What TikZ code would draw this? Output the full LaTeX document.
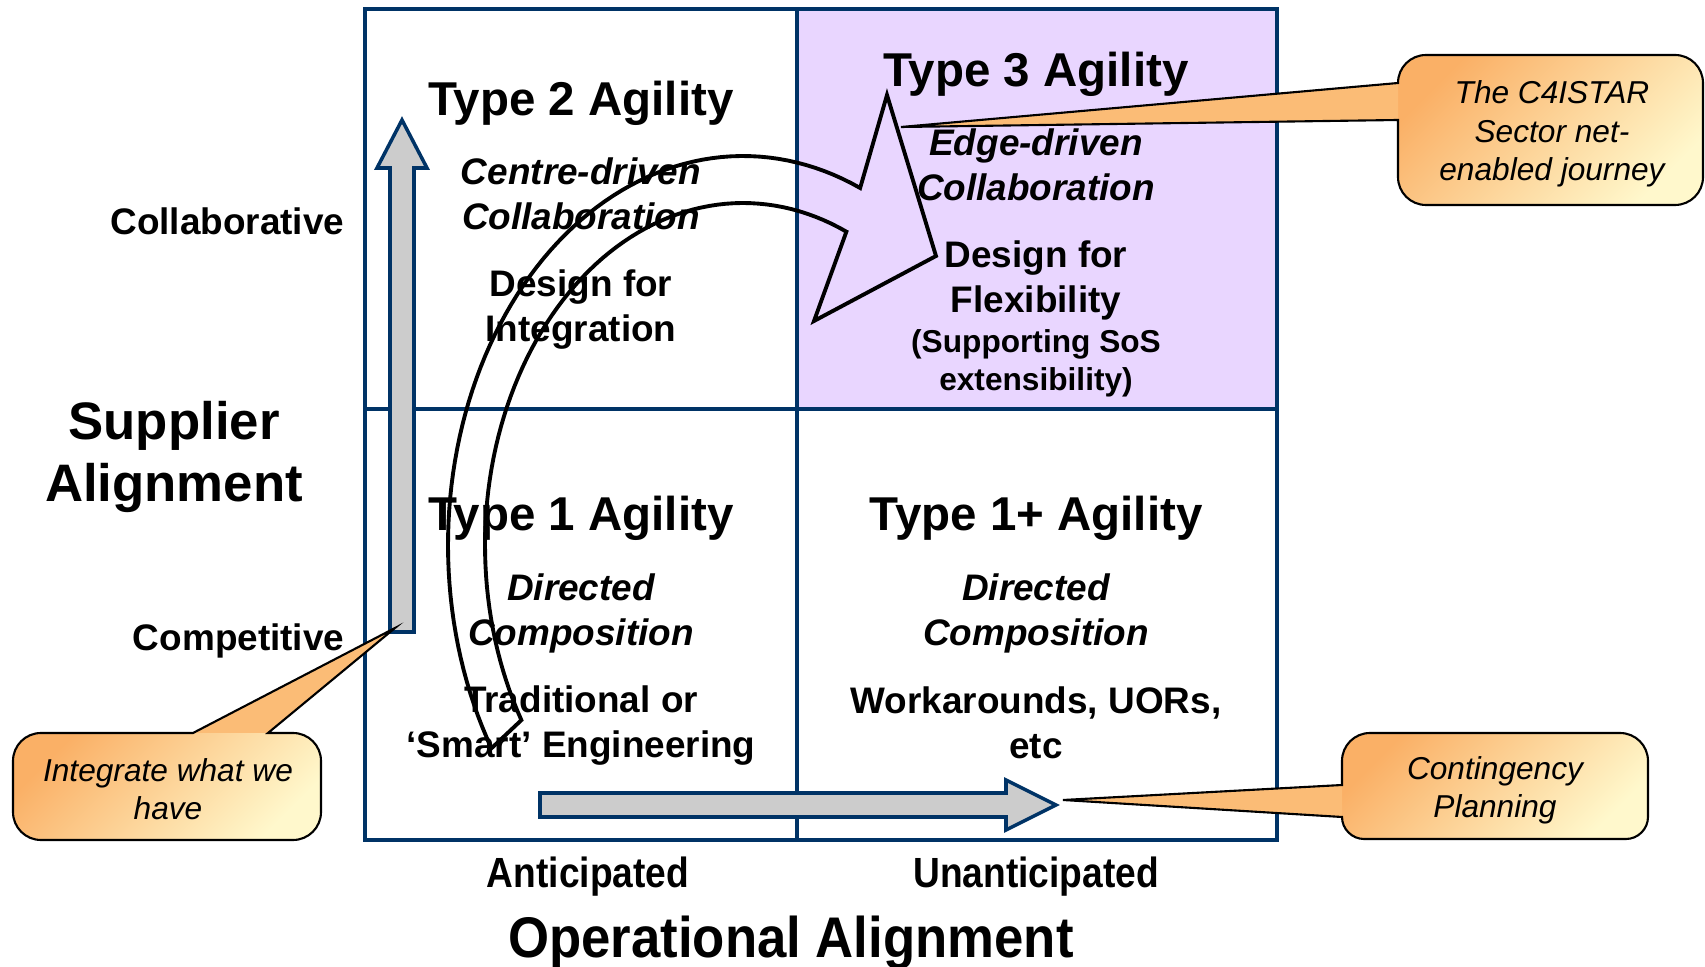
\documentclass[tikz,border=0pt]{standalone}
\usepackage{fontspec}
\setmainfont{Liberation Sans}
\definecolor{navy}{RGB}{0,51,102}
\definecolor{lilac}{RGB}{233,214,255}
\definecolor{arrgray}{RGB}{204,204,204}
\definecolor{coA}{RGB}{250,176,102}
\definecolor{coB}{RGB}{255,248,204}
\definecolor{coT}{RGB}{251,188,118}
\tikzset{
  frm/.style={draw=navy, line width=1.1pt},
  ttl/.style={font=\fontsize{13.5}{16}\selectfont\bfseries, inner sep=0pt},
  body/.style={font=\fontsize{10.5}{12.8}\selectfont\bfseries, align=center, inner sep=0pt},
  sub/.style={font=\fontsize{10.5}{12.8}\selectfont\bfseries\itshape, align=center, inner sep=0pt},
  smallbody/.style={font=\fontsize{9}{10.8}\selectfont\bfseries, align=center, inner sep=0pt},
  axbig/.style={font=\fontsize{15}{17.9}\selectfont\bfseries, align=center, inner sep=0pt},
  axsmall/.style={font=\fontsize{12}{14}\selectfont\bfseries, inner sep=0pt},
  axtitle/.style={font=\fontsize{16.3}{19}\selectfont\bfseries, inner sep=0pt},
  blk/.style={draw=navy, fill=arrgray, line width=1pt},
  bendarr/.style={draw=black, line width=1.1pt},
  coshade/.style={top color=coA, bottom color=coB, shading angle=45},
  cotail/.style={fill=coT},
  coline/.style={draw=black, line width=0.6pt},
  note/.style={font=\fontsize{9}{10.9}\selectfont\itshape, align=center, inner sep=0pt},
}
\begin{document}
\begin{tikzpicture}[x=0.01cm, y=-0.01cm]
\useasboundingbox (0,0) rectangle (1705,967);
% quadrants
\fill[lilac] (797,9) rectangle (1277,409);
\draw[frm] (365,9) rectangle (1277,840);
\draw[frm] (797,9) -- (797,840);
\draw[frm] (365,409) -- (1277,409);

\node[ttl] (t2) at (581,103) {Type 2 Agility};
\node[sub] (t2a) at (581,194) {Centre-driven\\Collaboration};
\node[body] (t2b) at (581,310) {Design for\\Integration};
\node[ttl] (t3) at (1036,74) {Type 3 Agility};
\node[sub] (t3a) at (1036,165) {Edge-driven\\Collaboration};
\node[body] (t3b) at (1036,280) {Design for\\Flexibility};
\node[smallbody] (t3c) at (1036,363) {(Supporting SoS\\extensibility)};
\node[ttl] (t1) at (581,518) {Type 1 Agility};
\node[sub] (t1a) at (581,613) {Directed\\Composition};
\node[body] (t1b) at (581,726) {Traditional or\\‘Smart’ Engineering};
\node[ttl] (t1p) at (1036,518) {Type 1+ Agility};
\node[sub] (t1pa) at (1036,613) {Directed\\Composition};
\node[body] (t1pb) at (1036,723) {Workarounds, UORs,\\etc};

% axes
\node[body, anchor=east] (collab) at (345,221) {Collaborative};
\node[body, anchor=east] (compet) at (345,641) {Competitive};
\node[axbig] (supplier) at (174,457) {Supplier\\Alignment};
\node[axsmall] (antic) at (588,877) {\scalebox{0.88}[1]{Anticipated}};
\node[axsmall] (unantic) at (1036,877) {\scalebox{0.88}[1]{Unanticipated}};
\node[axtitle] (oper) at (791,943) {\scalebox{0.92}[1]{Operational Alignment}};

% block arrows
\draw[blk] (390,632) -- (390,168) -- (377,168) -- (402,120) -- (427,168)
  -- (414,168) -- (414,632) -- cycle;
\draw[blk] (540,793) -- (1006,793) -- (1006,780) -- (1056,805) -- (1006,830)
  -- (1006,817) -- (540,817) -- cycle;

% journey arrow
\draw[bendarr] plot[domain=148.5:293.4, samples=80] ({743+295*cos(\x)},{545+389*sin(\x)})
  -- (887,95) -- (936,256) -- (814,321) -- (847,230)
  -- plot[domain=293.6:149.2, samples=80] ({743+258*cos(\x)},{545+342*sin(\x)}) -- cycle;

% callouts
\coordinate (tipj) at (901,127);
\coordinate (tipi) at (395,628);
\coordinate (tipc) at (1063,800);

\shade[coshade] (1398,83) .. controls (1398,67.5) and (1410.5,55) .. (1426,55) -- (1675,55)
  .. controls (1690.5,55) and (1703,67.5) .. (1703,83) -- (1703,177)
  .. controls (1703,192.5) and (1690.5,205) .. (1675,205) -- (1426,205)
  .. controls (1410.5,205) and (1398,192.5) .. (1398,177) -- cycle;
\fill[cotail] (1398,83) -- (tipj) -- (1398,120) -- cycle;
\draw[coline] (1398,120) -- (tipj) -- (1398,83)
  .. controls (1398,67.5) and (1410.5,55) .. (1426,55) -- (1675,55)
  .. controls (1690.5,55) and (1703,67.5) .. (1703,83) -- (1703,177)
  .. controls (1703,192.5) and (1690.5,205) .. (1675,205) -- (1426,205)
  .. controls (1410.5,205) and (1398,192.5) .. (1398,177) -- cycle;
\node[note] (journey) at (1552,134) {The C4ISTAR\\Sector net-\\enabled journey};

\shade[coshade] (41,733) -- (293,733) .. controls (308.5,733) and (321,745.5) .. (321,761)
  -- (321,812) .. controls (321,827.5) and (308.5,840) .. (293,840) -- (41,840)
  .. controls (25.5,840) and (13,827.5) .. (13,812) -- (13,761)
  .. controls (13,745.5) and (25.5,733) .. (41,733) -- cycle;
\fill[cotail] (193,733) -- (tipi) -- (268,733) -- cycle;
\draw[coline] (193,733) -- (tipi) -- (268,733) -- (293,733)
  .. controls (308.5,733) and (321,745.5) .. (321,761)
  -- (321,812) .. controls (321,827.5) and (308.5,840) .. (293,840) -- (41,840)
  .. controls (25.5,840) and (13,827.5) .. (13,812) -- (13,761)
  .. controls (13,745.5) and (25.5,733) .. (41,733) -- cycle;
\node[note] (integr) at (168,789) {Integrate what we\\have};

\shade[coshade] (1342,761) .. controls (1342,745.5) and (1354.5,733) .. (1370,733) -- (1620,733)
  .. controls (1635.5,733) and (1648,745.5) .. (1648,761) -- (1648,817)
  .. controls (1648,829) and (1638,839) .. (1626,839) -- (1364,839)
  .. controls (1352,839) and (1342,829) .. (1342,817) -- cycle;
\fill[cotail] (1342,785) -- (tipc) -- (1342,817) -- cycle;
\draw[coline] (1342,785) -- (tipc) -- (1342,817)
  .. controls (1342,829) and (1352,839) .. (1364,839) -- (1626,839)
  .. controls (1638,839) and (1648,829) .. (1648,817) -- (1648,761)
  .. controls (1648,745.5) and (1635.5,733) .. (1620,733) -- (1370,733)
  .. controls (1354.5,733) and (1342,745.5) .. (1342,761) -- cycle;
\node[note] (conting) at (1495,790) {Contingency\\Planning};
\end{tikzpicture}
\end{document}
